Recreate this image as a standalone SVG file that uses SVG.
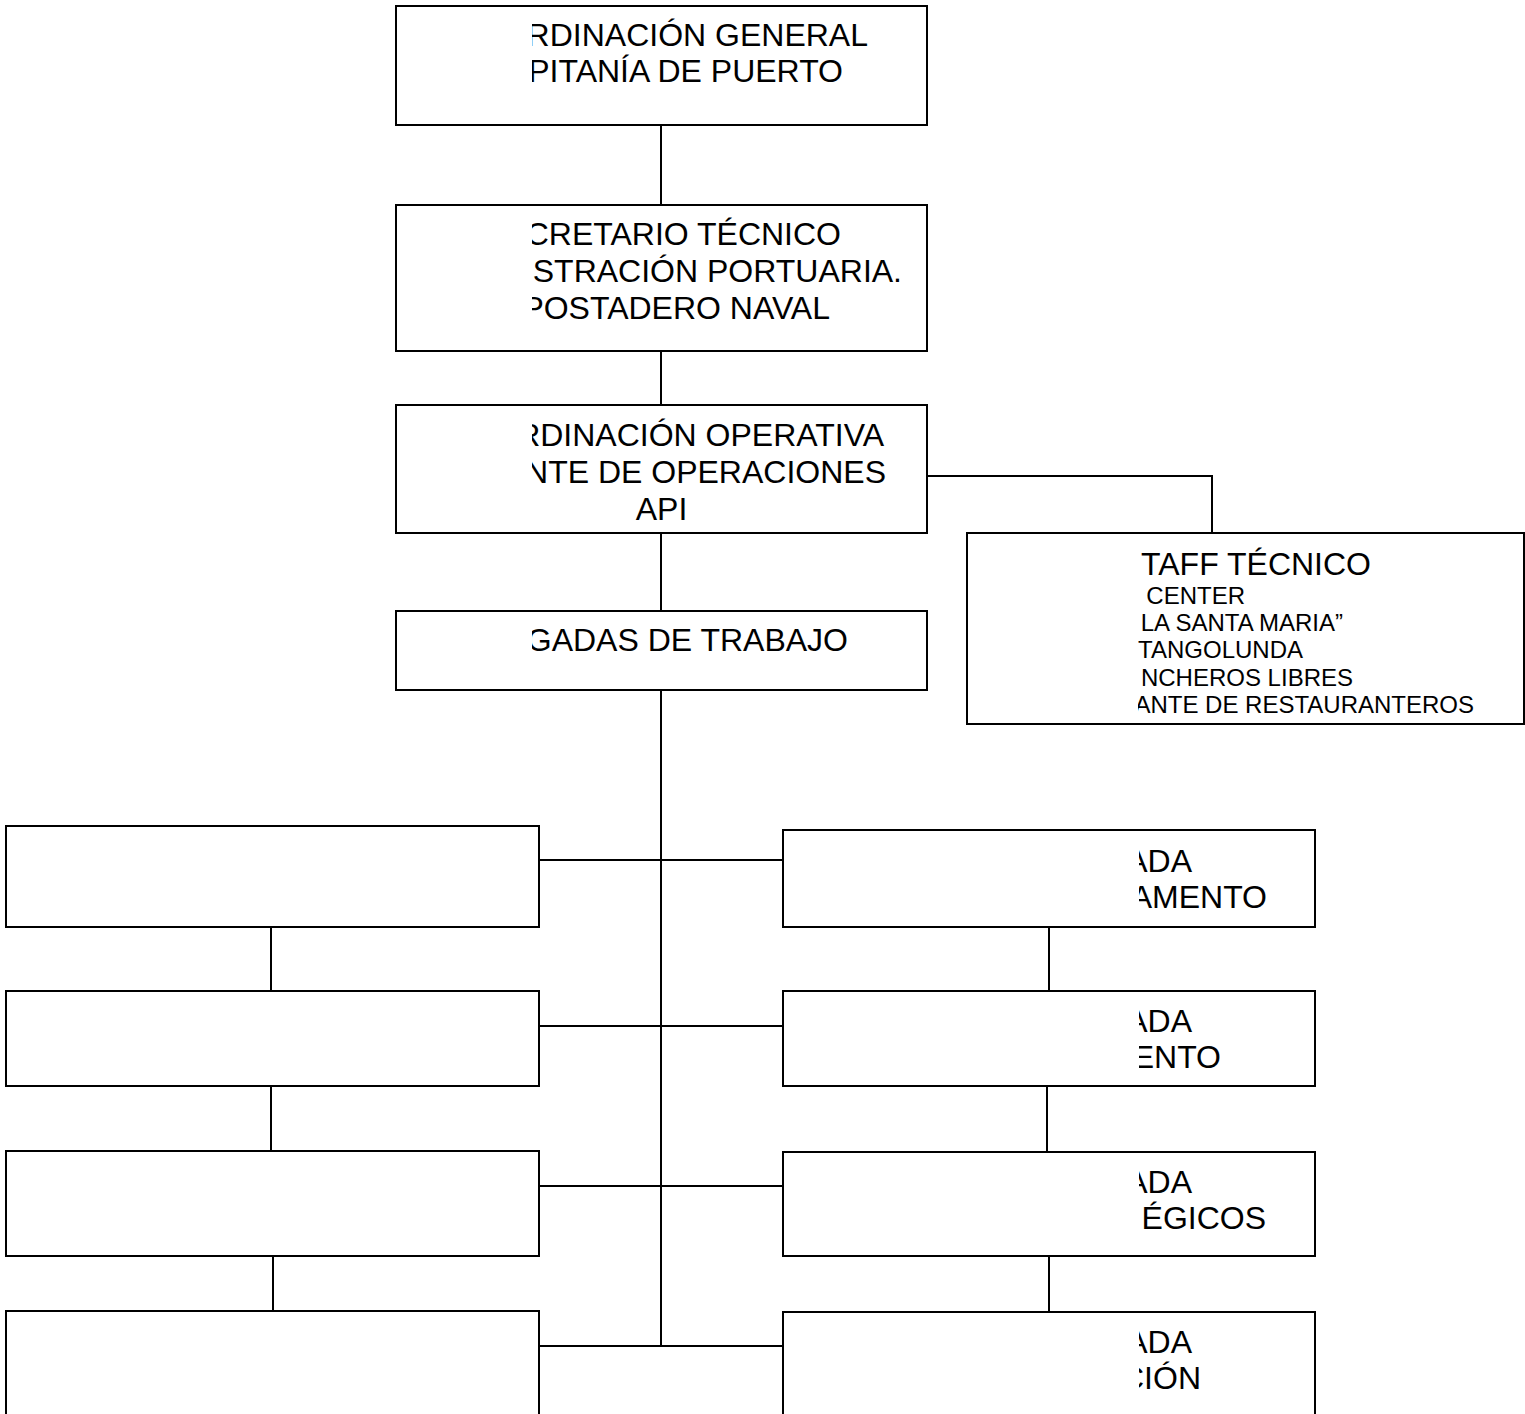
<svg xmlns="http://www.w3.org/2000/svg" width="1525" height="1414" viewBox="0 0 1525 1414">
<style>
.box{fill:#fff;stroke:#000;stroke-width:2}
.ln{fill:none;stroke:#000;stroke-width:2}
.t{font-family:"Liberation Sans",Arial,sans-serif;font-size:32px;fill:#000}
.s{font-family:"Liberation Sans",Arial,sans-serif;font-size:24px;fill:#000}
</style>
<defs>
<clipPath id="cTop"><rect x="532" y="0" width="400" height="700"/></clipPath>
<clipPath id="cStaff"><rect x="1138" y="530" width="390" height="200"/></clipPath>
<clipPath id="cRight"><rect x="1139" y="825" width="180" height="600"/></clipPath>
</defs>

<g id="connectors">
<path class="ln" d="M661 125V205M661 351V405M661 533V611M661 685V1346"/>
<path class="ln" d="M927 476H1213M1212 476V533"/>
<path class="ln" d="M540 860H783M540 1026H783M540 1186H783M540 1346H783"/>
<path class="ln" d="M271 927V991M271 1086V1151M273 1256V1311"/>
<path class="ln" d="M1049 927V991M1047 1086V1152M1049 1256V1312"/>
</g>

<g id="n1">
<rect class="box" x="396" y="6" width="531" height="119"/>
<g clip-path="url(#cTop)">
<text class="t" x="868" y="45.5" text-anchor="end">RDINACIÓN GENERAL</text>
<text class="t" x="843" y="82" text-anchor="end">PITANÍA DE PUERTO</text>
</g>
</g>

<g id="n2">
<rect class="box" x="396" y="205" width="531" height="146"/>
<g clip-path="url(#cTop)">
<text class="t" x="841" y="245" text-anchor="end">CRETARIO TÉCNICO</text>
<text class="t" x="902" y="282" text-anchor="end">STRACIÓN PORTUARIA.</text>
<text class="t" x="830" y="319" text-anchor="end">POSTADERO NAVAL</text>
</g>
</g>

<g id="n3">
<rect class="box" x="396" y="405" width="531" height="128"/>
<g clip-path="url(#cTop)">
<text class="t" x="884" y="445.5" text-anchor="end">RDINACIÓN OPERATIVA</text>
<text class="t" x="886" y="482.5" text-anchor="end">NTE DE OPERACIONES</text>
<text class="t" x="661.5" y="519.5" text-anchor="middle">API</text>
</g>
</g>

<g id="n4">
<rect class="box" x="396" y="611" width="531" height="79"/>
<g clip-path="url(#cTop)">
<text class="t" x="848" y="651" text-anchor="end">GADAS DE TRABAJO</text>
</g>
</g>

<g id="staff">
<rect class="box" x="967" y="533" width="557" height="191"/>
<g clip-path="url(#cStaff)">
<text class="t" x="1371" y="575" text-anchor="end">TAFF TÉCNICO</text>
<text class="s" x="1245" y="604" text-anchor="end">CENTER</text>
<text class="s" x="1343" y="631" text-anchor="end">LA SANTA MARIA”</text>
<text class="s" x="1303" y="658" text-anchor="end">TANGOLUNDA</text>
<text class="s" x="1353" y="686" text-anchor="end">NCHEROS LIBRES</text>
<text class="s" x="1474" y="713" text-anchor="end">ANTE DE RESTAURANTEROS</text>
</g>
</g>

<g id="l1"><rect class="box" x="6" y="826" width="533" height="101"/></g>
<g id="l2"><rect class="box" x="6" y="991" width="533" height="95"/></g>
<g id="l3"><rect class="box" x="6" y="1151" width="533" height="105"/></g>
<g id="l4"><rect class="box" x="6" y="1311" width="533" height="110"/></g>

<g id="r1">
<rect class="box" x="783" y="830" width="532" height="97"/>
<g clip-path="url(#cRight)">
<text class="t" x="1192" y="872" text-anchor="end">ADA</text>
<text class="t" x="1267" y="908" text-anchor="end">AMENTO</text>
</g>
</g>
<g id="r2">
<rect class="box" x="783" y="991" width="532" height="95"/>
<g clip-path="url(#cRight)">
<text class="t" x="1192" y="1032" text-anchor="end">ADA</text>
<text class="t" x="1221" y="1068" text-anchor="end">ENTO</text>
</g>
</g>
<g id="r3">
<rect class="box" x="783" y="1152" width="532" height="104"/>
<g clip-path="url(#cRight)">
<text class="t" x="1192" y="1193" text-anchor="end">ADA</text>
<text class="t" x="1266" y="1229" text-anchor="end">ÉGICOS</text>
</g>
</g>
<g id="r4">
<rect class="box" x="783" y="1312" width="532" height="110"/>
<g clip-path="url(#cRight)">
<text class="t" x="1192" y="1353" text-anchor="end">ADA</text>
<text class="t" x="1201" y="1389" text-anchor="end">CIÓN</text>
</g>
</g>
</svg>
